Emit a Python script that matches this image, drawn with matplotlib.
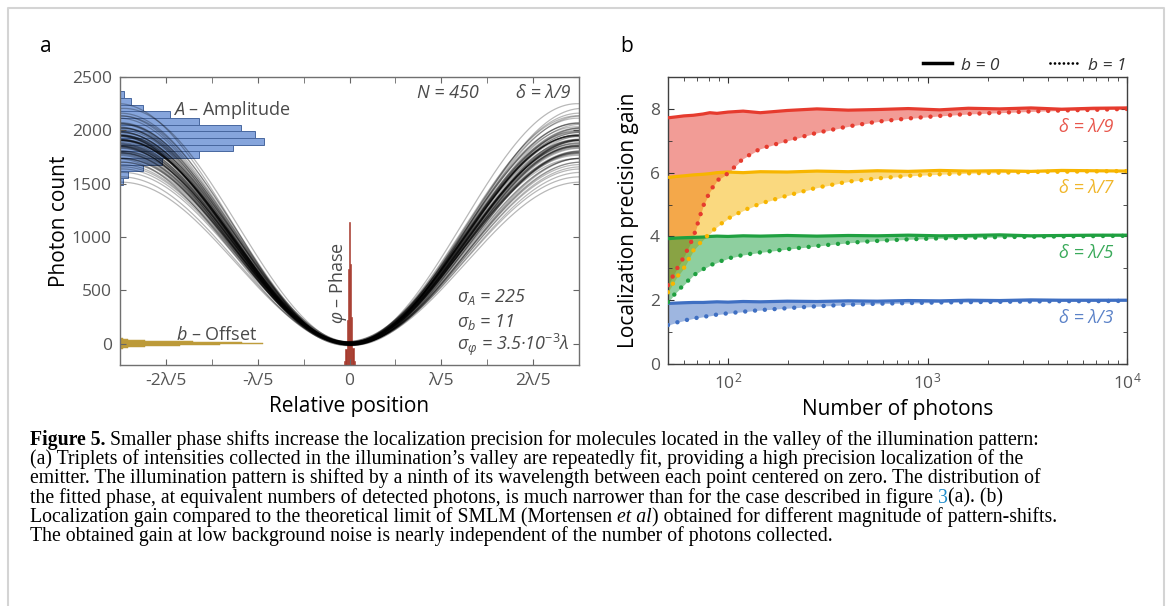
import numpy as np
import matplotlib
matplotlib.use('Agg')
import matplotlib.pyplot as plt
from matplotlib.lines import Line2D
from matplotlib.ticker import FixedLocator, MultipleLocator, LogLocator, NullFormatter, LogFormatterMathtext

plt.rcParams['font.family'] = ['Open Sans', 'DejaVu Sans']
plt.rcParams['mathtext.fontset'] = 'custom'
plt.rcParams['mathtext.rm'] = 'Open Sans'
plt.rcParams['mathtext.it'] = 'Open Sans:italic'
plt.rcParams['mathtext.bf'] = 'Open Sans:bold'

W, H = 1171, 606

# ---------------- panel a data ----------------
# fitted amplitudes (photons), phases (wavelengths) and offsets (photons), one per curve
amplitudes = [1912, 1786, 2043, 1858, 1695, 1967, 1831, 2104, 1744, 1889,
              1990, 1603, 1877, 2011, 1812, 1936, 1765, 2168, 1851, 1924,
              1720, 1958, 1895, 2072, 1802, 1659, 1943, 1868, 2027, 1519,
              1905, 1755, 1981, 1840, 2136, 1927, 1797, 1882, 2058, 1707,
              1950, 1822, 1999, 1870, 2210, 1776, 1919, 1846, 2089, 1632,
              1963, 1895, 1735, 2019, 1860, 1973, 1810, 2250, 1901, 1684,
              1938, 2035, 1826, 1566, 1985, 1874, 1791, 2120, 1908, 1948]
phases = [0.002, -0.003, 0.004, -0.001, 0.006, -0.005, 0.001, -0.002, 0.003, -0.006,
          0.000, 0.005, -0.004, 0.002, -0.001, 0.007, -0.003, 0.001, -0.007, 0.004,
          0.002, -0.002, 0.003, -0.004, 0.000, 0.005, -0.001, 0.002, -0.005, 0.003,
          -0.002, 0.006, 0.001, -0.003, 0.004, -0.006, 0.002, 0.000, -0.001, 0.003,
          -0.004, 0.005, 0.001, -0.002, 0.008, -0.003, 0.002, -0.005, 0.000, 0.004,
          -0.001, 0.003, -0.007, 0.001, 0.002, -0.002, 0.005, -0.004, 0.000, 0.003,
          -0.003, 0.006, -0.001, 0.002, -0.005, 0.004, 0.001, -0.002, 0.003, -0.004]
offsets = [4, -9, 13, -2, 7, -15, 0, 10, -6, 18,
           -11, 3, -4, 8, -19, 12, 1, -7, 5, -13,
           16, -3, 9, -8, 2, -1, 14, -10, 6, -5,
           11, -16, 0, 7, -2, 20, -12, 3, 9, -6,
           1, -14, 5, 8, -4, 12, -9, 2, -17, 6,
           -3, 10, -1, 4, -11, 15, -7, 0, 8, -5,
           3, -13, 11, -2, 6, -8, 1, 17, -6, 4]

# histograms drawn along the axes
amp_edges = [1490, 1552, 1615, 1677, 1740, 1802, 1865, 1927, 1990, 2052, 2115, 2177, 2240, 2302, 2365]
amp_counts = [3, 8, 23, 42, 79, 113, 144, 135, 121, 79, 50, 23, 11, 4]
off_edges = [-52, -42, -33, -23, -14, -5, 5, 14, 23, 33, 42, 52]
off_counts = [3, 8, 25, 60, 100, 143, 122, 73, 25, 8, 3]
phase_edges = [-0.01125, -0.00875, -0.00625, -0.00375, -0.00125, 0.00125,
               0.00375, 0.00625, 0.00875, 0.01125]
phase_counts = [40, 150, 420, 900, 1345, 950, 450, 160, 40]

xtick_pos = [-0.4, -0.2, 0.0, 0.2, 0.4]
xtick_lab = ['-2λ/5', '-λ/5', '0', 'λ/5', '2λ/5']

# ---------------- panel b data ----------------
photons = [50, 55, 60, 67, 75, 81, 88, 100, 119, 145, 198, 279, 400, 560, 800,
           1150, 1600, 2300, 3300, 4700, 6800, 10000]
red_b0 = [7.72, 7.75, 7.78, 7.80, 7.84, 7.88, 7.86, 7.90, 7.93, 7.88, 7.95, 8.00,
          7.96, 7.98, 8.01, 7.97, 8.02, 8.00, 8.03, 7.99, 8.02, 8.03]
red_b1 = [2.47, 2.95, 3.35, 3.97, 4.95, 5.40, 5.75, 5.98, 6.44, 6.75, 7.00, 7.25,
          7.45, 7.60, 7.70, 7.78, 7.84, 7.88, 7.92, 7.95, 7.97, 8.00]
yel_b0 = [5.85, 5.88, 5.90, 5.93, 5.95, 5.97, 6.00, 6.02, 6.00, 6.03, 6.02, 6.05,
          6.03, 6.06, 6.04, 6.07, 6.05, 6.06, 6.04, 6.07, 6.06, 6.05]
yel_b1 = [2.25, 2.70, 3.00, 3.56, 3.90, 4.09, 4.30, 4.56, 4.81, 5.03, 5.28, 5.53,
          5.72, 5.82, 5.90, 5.95, 5.98, 6.00, 6.02, 6.03, 6.04, 6.05]
grn_b0 = [3.93, 3.95, 3.96, 3.97, 3.98, 4.00, 4.01, 4.00, 4.02, 4.01, 4.03, 4.01,
          4.03, 4.02, 4.04, 4.02, 4.03, 4.05, 4.02, 4.03, 4.04, 4.04]
grn_b1 = [1.94, 2.25, 2.48, 2.78, 2.97, 3.09, 3.18, 3.31, 3.42, 3.50, 3.60, 3.70,
          3.80, 3.86, 3.91, 3.94, 3.96, 3.98, 3.99, 4.00, 4.01, 4.02]
blu_b0 = [1.90, 1.91, 1.92, 1.93, 1.93, 1.94, 1.95, 1.94, 1.96, 1.95, 1.97, 1.96,
          1.98, 1.97, 1.99, 1.98, 2.00, 1.99, 2.01, 2.00, 2.00, 2.00]
blu_b1 = [1.22, 1.30, 1.36, 1.43, 1.48, 1.51, 1.55, 1.59, 1.64, 1.69, 1.75, 1.81,
          1.86, 1.89, 1.91, 1.93, 1.94, 1.95, 1.96, 1.97, 1.97, 1.98]
shift_labels = ['δ = λ/9', 'δ = λ/7', 'δ = λ/5', 'δ = λ/3']
label_y = [7.43, 5.52, 3.48, 1.44]


def px_axes(l, t, r, b):
    return [l / W, 1 - b / H, (r - l) / W, (b - t) / H]


fig = plt.figure(figsize=(W / 100, H / 100), dpi=100)

# light frame round the figure
fig.add_artist(Line2D([8 / W, 8 / W, 1164 / W, 1164 / W], [-0.1, 1 - 8 / H, 1 - 8 / H, -0.1],
                      transform=fig.transFigure, color='#d4d4d4', lw=1.5))

# ================= panel a =================
ax1 = fig.add_axes(px_axes(120, 77, 579, 365))
gray_txt = '#4a4a4a'

# amplitude histogram on the left spine
scale = 0.00218  # wavelengths per count unit
for i, c in enumerate(amp_counts):
    ax1.barh(amp_edges[i], c * scale, height=amp_edges[i + 1] - amp_edges[i], left=-0.5,
             align='edge', color='#86a5dc', edgecolor='#48679f', lw=0.7, zorder=1)
# offset histogram
for i, c in enumerate(off_counts):
    ax1.barh(off_edges[i], c * scale, height=off_edges[i + 1] - off_edges[i], left=-0.5,
             align='edge', color='#c9a544', edgecolor='#b39231', lw=0.3, zorder=1)
# phase histogram from the bottom
ax1.bar(phase_edges[:-1], phase_counts, width=np.diff(phase_edges), bottom=-200,
        align='edge', color='#a6392c', edgecolor='#a6392c', lw=0.4, zorder=1)

xx = np.linspace(-0.5, 0.5, 400)
for A, ph, b in zip(amplitudes, phases, offsets):
    ax1.plot(xx, b + A * np.sin(np.pi * (xx - ph)) ** 2, color='black', alpha=0.28, lw=0.9, zorder=2)

ax1.set_xlim(-0.5, 0.5)
ax1.set_ylim(-200, 2500)
ax1.xaxis.set_major_locator(FixedLocator(xtick_pos))
ax1.set_xticklabels(xtick_lab)
ax1.xaxis.set_minor_locator(FixedLocator([-0.3, -0.1, 0.1, 0.3]))
ax1.yaxis.set_major_locator(MultipleLocator(500))
ax1.tick_params(which='both', direction='in', top=True, right=True, length=4,
                color='#666666', labelsize=12.5, labelcolor='#555555', pad=6)
for s in ax1.spines.values():
    s.set_color('#707070')
    s.set_linewidth(1.0)
ax1.set_xlabel('Relative position', fontsize=15, labelpad=5)
ax1.set_ylabel('Photon count', fontsize=15, labelpad=1)

ax1.text(-0.384, 2195, '$A$ – Amplitude', fontsize=13, color=gray_txt, va='center')
ax1.text(-0.379, 84, '$b$ – Offset', fontsize=13, color=gray_txt, va='center')
ax1.text(0.148, 2354, 'N = 450', fontsize=13, color=gray_txt, va='center', style='italic')
ax1.text(0.482, 2354, 'δ = λ/9', fontsize=13, color=gray_txt, va='center', ha='right', style='italic')
ax1.text(-0.024, 572, r'$\varphi$ – Phase', fontsize=13, color=gray_txt, va='center', ha='center',
         rotation=90)
ax1.text(0.235, 441, r'$\sigma_A$ = 225', fontsize=13, color=gray_txt, va='center', style='italic')
ax1.text(0.235, 206, r'$\sigma_b$ = 11', fontsize=13, color=gray_txt, va='center', style='italic')
ax1.text(0.235, -9, r'$\sigma_\varphi$ = 3.5·10$^{\mathit{-3}}$λ', fontsize=13, color=gray_txt,
         va='center', style='italic')

fig.text(40 / W, 1 - 47 / H, 'a', fontsize=15, va='center')
fig.text(620 / W, 1 - 47 / H, 'b', fontsize=15, va='center')

# ================= panel b =================
ax2 = fig.add_axes(px_axes(668, 77, 1127, 364))
series = [(red_b0, red_b1, '#e63b2e', '#e8564c'),
          (yel_b0, yel_b1, '#f7b500', '#f0b62a'),
          (grn_b0, grn_b1, '#1fa040', '#3aaa5a'),
          (blu_b0, blu_b1, '#3f6fc2', '#5b82c8')]
for b0, b1, col, _ in series:
    ax2.fill_between(photons, b0, b1, color=col, alpha=0.5, lw=0, zorder=1)
for b0, b1, col, _ in series:
    ax2.plot(photons, b0, color=col, lw=2.3, zorder=3, solid_capstyle='butt')
for b0, b1, col, _ in series:
    ax2.plot(photons, b1, color=col, lw=3.2, linestyle=(0, (0.01, 2.2)),
             dash_capstyle='round', zorder=4)
for (b0, b1, col, tcol), lab, ly in zip(series, shift_labels, label_y):
    ax2.text(0.9695, ly, lab, transform=ax2.get_yaxis_transform(), ha='right', va='center',
             fontsize=13, color=tcol, style='italic')

ax2.set_xscale('log')
ax2.set_xlim(50, 1e4)
ax2.set_ylim(0, 9)
ax2.yaxis.set_major_locator(FixedLocator([0, 2, 4, 6, 8]))
ax2.yaxis.set_minor_locator(MultipleLocator(1))
ax2.xaxis.set_major_locator(LogLocator(base=10))
ax2.xaxis.set_major_formatter(LogFormatterMathtext())
ax2.xaxis.set_minor_locator(LogLocator(base=10, subs=np.arange(2, 10)))
ax2.xaxis.set_minor_formatter(NullFormatter())
ax2.tick_params(which='major', direction='in', top=True, right=True, length=4,
                color='#333333', labelsize=12.5, labelcolor='#555555', pad=6)
ax2.tick_params(which='minor', direction='in', top=True, right=True, length=3, color='#333333')
for s in ax2.spines.values():
    s.set_color('#404040')
    s.set_linewidth(1.0)
ax2.set_xlabel('Number of photons', fontsize=15, labelpad=5)
ax2.set_ylabel('Localization precision gain', fontsize=15, labelpad=8)

handles = [Line2D([], [], color='black', lw=2.5),
           Line2D([], [], color='black', lw=2.0, linestyle=(0, (0.01, 1.6)), dash_capstyle='round')]
leg = ax2.legend(handles, ['b = 0', 'b = 1'], ncol=2, loc='lower right', bbox_to_anchor=(1.006, 1.0),
                 frameon=False, handlelength=1.7, handletextpad=0.5, columnspacing=2.9,
                 borderaxespad=0.1, borderpad=0.1, prop={'style': 'italic', 'size': 12.5})
for t in leg.get_texts():
    t.set_color('#333333')

# ================= caption =================
cap_lines = [
    [('Figure 5.', {'weight': 'bold'}, True),
     ('Smaller phase shifts increase the localization precision for molecules located in the valley of the illumination pattern:', {}, False)],
    [('(a) Triplets of intensities collected in the illumination’s valley are repeatedly fit, providing a high precision localization of the', {}, False)],
    [('emitter. The illumination pattern is shifted by a ninth of its wavelength between each point centered on zero. The distribution of', {}, False)],
    [('the fitted phase, at equivalent numbers of detected photons, is much narrower than for the case described in figure', {}, True),
     ('3', {'color': '#1f8ccb'}, False),
     ('(a). (b)', {}, False)],
    [('Localization gain compared to the theoretical limit of SMLM (Mortensen', {}, True),
     ('et al', {'style': 'italic'}, False),
     (') obtained for different magnitude of pattern-shifts.', {}, False)],
    [('The obtained gain at low background noise is nearly independent of the number of photons collected.', {}, False)],
]
cap_size = 14.2
fig.canvas.draw()
rend = fig.canvas.get_renderer()


def text_width(s, **kw):
    t = fig.text(0, 0, s, fontsize=cap_size, family='Liberation Serif', **kw)
    w = t.get_window_extent(rend).width
    t.remove()
    return w


space_w = text_width('n n') - text_width('nn')
for i, segs in enumerate(cap_lines):
    x = 30
    y = 445 + i * 19.2
    for s, style, sp in segs:
        t = fig.text(x / W, 1 - y / H, s, fontsize=cap_size, family='Liberation Serif',
                     va='baseline', **style)
        x += t.get_window_extent(rend).width
        if sp:
            x += space_w

fig.savefig('out.png', dpi=100)
